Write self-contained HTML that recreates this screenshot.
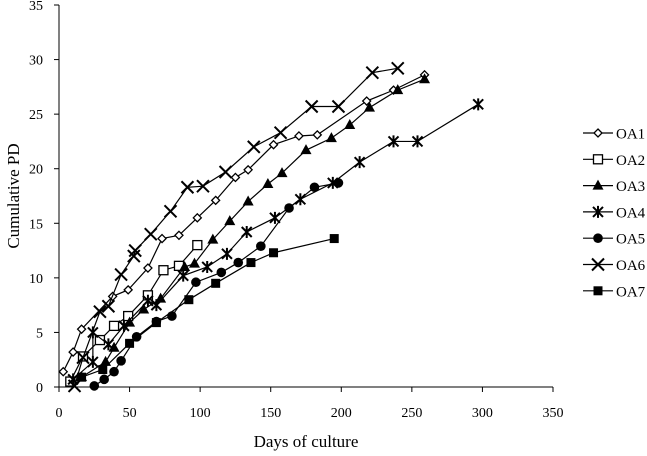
<!DOCTYPE html>
<html><head><meta charset="utf-8"><style>
body{margin:0;background:#fff}
svg{display:block;font-family:"Liberation Serif",serif}
</style></head><body>
<svg id="chart" width="647" height="456"></svg>
<script>
const xTicks=[0,50,100,150,200,250,300,350];
const yTicks=[0,5,10,15,20,25,30,35];
const seriesNames=["OA1","OA2","OA3","OA4","OA5","OA6","OA7"];
const oa1Days=[3,10,16,38,49,63,73,85,98,111,125,134,152,170,183,218,237,259];
const oa1PD=[1.4,3.2,5.3,8.3,8.9,10.9,13.6,13.9,15.5,17.1,19.2,19.9,22.2,23,23.1,26.2,27.2,28.6];
const oa2Days=[8,17,29,39,49,63,74,85,98];
const oa2PD=[0.5,2.8,4.3,5.6,6.5,8.4,10.7,11.1,13.0];
const oa3Days=[16,33,39,50,60,72,89,96,109,121,134,148,158,175,193,206,220,240,259];
const oa3PD=[0.9,2.3,3.6,5.9,7.1,8.1,11,11.3,13.5,15.2,17,18.6,19.6,21.7,22.8,24,25.6,27.2,28.2];
const oa4Days=[10,24,24,35,46,63,69,88,105,119,133,153,171,194,213,237,254,297];
const oa4PD=[0.7,2.3,5.0,3.9,5.6,7.9,7.5,10.2,11,12.2,14.2,15.5,17.2,18.7,20.6,22.5,22.5,25.9];
const oa5Days=[25,32,39,44,55,69,80,97,115,127,143,163,181,198];
const oa5PD=[0.1,0.7,1.4,2.4,4.6,6,6.5,9.6,10.5,11.4,12.9,16.4,18.3,18.7];
const oa6Days=[11,17,29,35,44,53,54,65,79,91,102,118,138,157,179,198,222,240];
const oa6PD=[0.1,2.7,6.9,7.4,10.3,12,12.5,14,16.1,18.3,18.4,19.7,22,23.3,25.7,25.7,28.8,29.2];
const oa7Days=[16,31,50,69,92,111,136,152,195];
const oa7PD=[0.9,1.6,4,5.9,8,9.5,11.4,12.3,13.6];
const allDays=[oa1Days,oa2Days,oa3Days,oa4Days,oa5Days,oa6Days,oa7Days];
const allPD=[oa1PD,oa2PD,oa3PD,oa4PD,oa5PD,oa6PD,oa7PD];
const markers=["diamond","square-open","triangle","asterisk","circle","cross","square"];

const NS="http://www.w3.org/2000/svg";
const svg=document.getElementById("chart");
const X0=59,X1=553,Y0=387,Y1=5;
function xs(v){return X0+(v-0)/350*(X1-X0);}
function ys(v){return Y0-(v-0)/35*(Y0-Y1);}
function mk(tag,attrs,parent){const e=document.createElementNS(NS,tag);for(const k in attrs)e.setAttribute(k,attrs[k]);(parent||svg).appendChild(e);return e;}

const axes=mk("g",{});


mk("line",{x1:X0,y1:Y1,x2:X0,y2:Y0,stroke:"#000","stroke-width":1},axes);
mk("line",{x1:X0,y1:Y0,x2:X1,y2:Y0,stroke:"#000","stroke-width":1},axes);
xTicks.forEach(t=>{
  mk("line",{x1:xs(t),y1:Y0,x2:xs(t),y2:Y0+5,stroke:"#000"},axes);
  const tx=mk("text",{x:xs(t),y:Y0+30,"text-anchor":"middle","font-size":14},axes);
  
  
  tx.textContent=t;
});
yTicks.forEach(t=>{
  mk("line",{x1:X0-5,y1:ys(t),x2:X0,y2:ys(t),stroke:"#000"},axes);
  const tx=mk("text",{x:X0-16,y:ys(t)+5,"text-anchor":"end","font-size":14},axes);
  
  
  tx.textContent=t;
});
const xt=mk("text",{x:306,y:447,"text-anchor":"middle","font-size":17});


xt.textContent="Days of culture";
const yt=mk("text",{x:0,y:0,"text-anchor":"middle","font-size":17,transform:"translate(19,196) rotate(-90)"});


yt.textContent="Cumulative PD";

function drawMarker(type,cx,cy,g){
  const s="#000";
  if(type==="diamond"){mk("polygon",{points:`${cx},${cy-4} ${cx+4},${cy} ${cx},${cy+4} ${cx-4},${cy}`,fill:"#fff",stroke:s,"stroke-width":1.3},g);}
  else if(type==="square-open"){mk("rect",{x:cx-4.5,y:cy-4.5,width:9,height:9,fill:"#fff",stroke:s,"stroke-width":1.3},g);}
  else if(type==="square"){mk("rect",{x:cx-4.5,y:cy-4.5,width:9,height:9,fill:s},g);}
  else if(type==="triangle"){mk("polygon",{points:`${cx},${cy-6} ${cx+5.5},${cy+4} ${cx-5.5},${cy+4}`,fill:s},g);}
  else if(type==="circle"){mk("circle",{cx:cx,cy:cy,r:4.8,fill:s},g);}
  else if(type==="cross"){mk("path",{d:`M${cx-6},${cy-6}L${cx+6},${cy+6}M${cx-6},${cy+6}L${cx+6},${cy-6}`,stroke:s,"stroke-width":2},g);}
  else if(type==="asterisk"){mk("path",{d:`M${cx-5},${cy-5}L${cx+5},${cy+5}M${cx-5},${cy+5}L${cx+5},${cy-5}M${cx},${cy-6}L${cx},${cy+6}`,stroke:s,"stroke-width":2},g);}
}

seriesNames.forEach((name,i)=>{
  const g=mk("g",{});
  
  
  const d=allDays[i], p=allPD[i];
  const pts=d.map((v,j)=>xs(v)+","+ys(p[j])).join(" ");
  const pl=mk("polyline",{points:pts,fill:"none",stroke:"#000","stroke-width":1.2},g);
  
  
  d.forEach((v,j)=>drawMarker(markers[i],xs(v),ys(p[j]),g));
  const ly=133+i*26.3;
  const le=mk("g",{});
  
  
  mk("line",{x1:583,y1:ly,x2:613,y2:ly,stroke:"#000","stroke-width":1.2},le);
  drawMarker(markers[i],598,ly,le);
  const lt=mk("text",{x:616,y:ly+5.5,"font-size":15},le);
  lt.textContent=name;
});
</script>
</body></html>
